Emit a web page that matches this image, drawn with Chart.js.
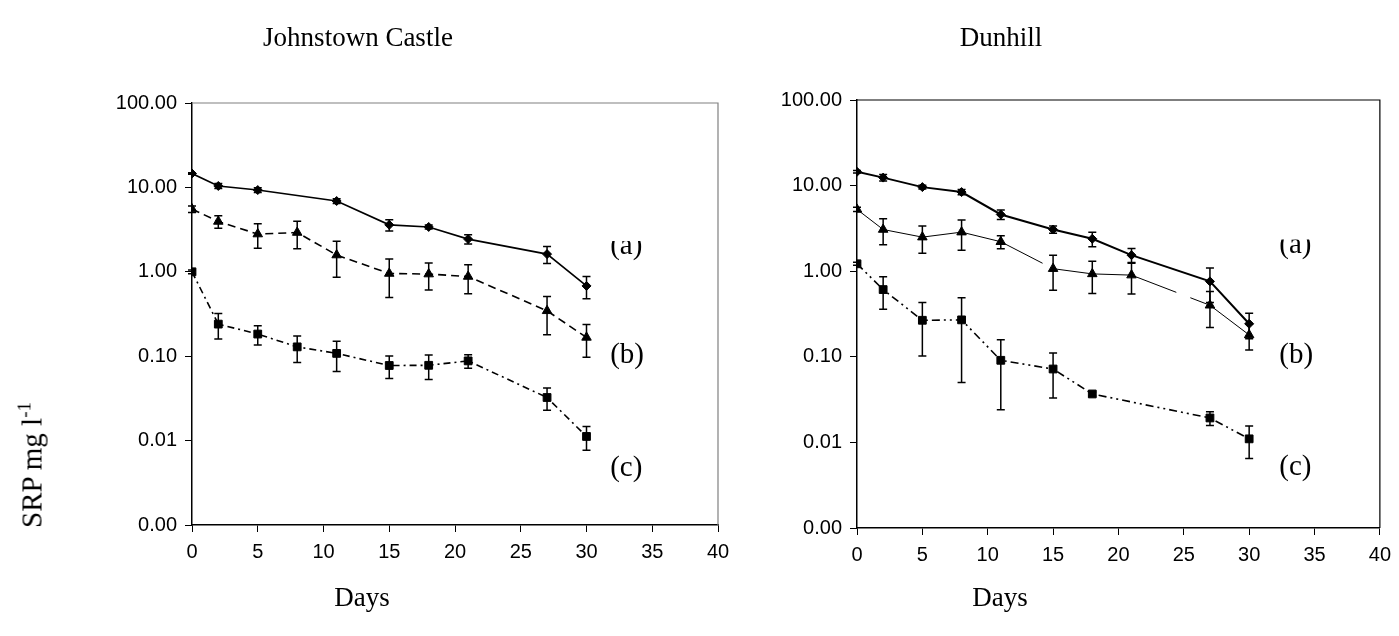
<!DOCTYPE html>
<html>
<head>
<meta charset="utf-8">
<script src="https://cdn.jsdelivr.net/npm/chart.js@4.4.1/dist/chart.umd.min.js"></script>
<style>
  body { margin: 0; background: #fff; }
  #wrap { position: relative; width: 1399px; height: 636px; overflow: hidden; font-family: "Liberation Serif", "Times New Roman", serif; color: #000; }
  canvas { position: absolute; top: 0; }
  .t { position: absolute; font-size: 27px; white-space: nowrap; transform: translate(-50%, -50%); }
  .ylab { position: absolute; left: 31px; top: 465px; font-size: 29px; white-space: nowrap; transform: translate(-50%, -50%) rotate(-90deg); }
  .ylab sup { font-size: 19px; vertical-align: 11px; }
</style>
</head>
<body>
<div id="wrap">
  <canvas id="jc" width="740" height="636" style="left:0"></canvas>
  <canvas id="dh" width="659" height="636" style="left:740px"></canvas>
  <div class="t" style="left:358px; top:37px">Johnstown Castle</div>
  <div class="t" style="left:1001px; top:37px">Dunhill</div>
  <div class="t" style="left:362px; top:597px">Days</div>
  <div class="t" style="left:1000px; top:597px">Days</div>
  <div class="ylab">SRP mg l<sup>-1</sup></div>
</div>
<script>
// tick labels
var xTicks = [0, 5, 10, 15, 20, 25, 30, 35, 40];
var yTicks = [0.001, 0.01, 0.1, 1, 10, 100];
var curveLabels = ['(a)', '(b)', '(c)'];

// Johnstown Castle
var jcDaysA = [0, 2, 5, 11, 15, 18, 21, 27, 30];
var jcA     = [14.6, 10.4, 9.3, 6.9, 3.6, 3.4, 2.44, 1.62, 0.68];
var jcAErr  = [0.3, 0.7, 0.6, 0.45, 0.55, 0.19, 0.3, 0.37, 0.2];
var jcDays  = [0, 2, 5, 8, 11, 15, 18, 21, 27, 30];
var jcB     = [5.53, 3.95, 2.8, 2.92, 1.58, 0.955, 0.94, 0.88, 0.345, 0.167];
var jcBErr  = [0.5, 0.67, 0.9, 1.05, 0.72, 0.46, 0.33, 0.33, 0.165, 0.07];
var jcC     = [1.0, 0.24, 0.183, 0.129, 0.108, 0.0776, 0.078, 0.088, 0.0324, 0.0112];
var jcCErr  = [0.05, 0.08, 0.047, 0.045, 0.042, 0.023, 0.025, 0.016, 0.0095, 0.0035];

// Dunhill
var dhDays  = [0, 2, 5, 8, 11, 15, 18, 21, 27, 30];
var dhA     = [14.5, 12.4, 9.6, 8.4, 4.6, 3.07, 2.39, 1.54, 0.76, 0.243];
var dhAErr  = [0.5, 1.1, 0.5, 0.6, 0.58, 0.3, 0.46, 0.3, 0.33, 0.08];
var dhB     = [5.27, 3.07, 2.5, 2.86, 2.21, 1.07, 0.93, 0.90, 0.40, 0.18];
var dhBErr  = [0.3, 1.03, 0.88, 1.1, 0.38, 0.47, 0.38, 0.36, 0.18, 0.06];
var dhDaysC = [0, 2, 5, 8, 11, 15, 18, 27, 30];
var dhC     = [1.22, 0.61, 0.267, 0.27, 0.091, 0.072, 0.0368, 0.0193, 0.011];
var dhCErr  = [0.05, 0.25, 0.165, 0.22, 0.067, 0.039, 0.002, 0.0035, 0.0045];

function pts(days, vals) {
  return days.map(function (d, i) { return { x: d, y: vals[i] }; });
}

// error bars drawn through the scales
var errorBars = {
  id: 'errorBars',
  afterDatasetsDraw: function (chart) {
    var ctx = chart.ctx, x = chart.scales.x, y = chart.scales.y;
    ctx.save();
    ctx.strokeStyle = '#000';
    ctx.lineWidth = 1.5;
    ctx.setLineDash([]);
    chart.data.datasets.forEach(function (ds) {
      ds.data.forEach(function (p, i) {
        var e = ds.errors[i];
        var px = x.getPixelForValue(p.x);
        var top = y.getPixelForValue(p.y + e);
        var bot = y.getPixelForValue(Math.max(p.y - e, 0.0011));
        ctx.beginPath();
        ctx.moveTo(px, top); ctx.lineTo(px, bot);
        ctx.moveTo(px - 4, top); ctx.lineTo(px + 4, top);
        ctx.moveTo(px - 4, bot); ctx.lineTo(px + 4, bot);
        ctx.stroke();
      });
    });
    ctx.restore();
  }
};

// top and right edge of the plot box
var frame = {
  id: 'frame',
  beforeDatasetsDraw: function (chart, args, opts) {
    var a = chart.chartArea, ctx = chart.ctx;
    ctx.save();
    ctx.strokeStyle = opts.color;
    ctx.lineWidth = 1.2;
    ctx.beginPath();
    ctx.moveTo(a.left, a.top); ctx.lineTo(a.right, a.top); ctx.lineTo(a.right, a.bottom);
    ctx.stroke();
    ctx.restore();
  }
};

// (a) (b) (c) next to the curves
var curveText = {
  id: 'curveText',
  afterDraw: function (chart, args, opts) {
    var ctx = chart.ctx, x = chart.scales.x, y = chart.scales.y;
    ctx.save();
    ctx.fillStyle = '#000';
    ctx.font = '29px "Liberation Serif", "Times New Roman", serif';
    ctx.textBaseline = 'alphabetic';
    var px = x.getPixelForValue(opts.x);
    opts.y.forEach(function (v, i) {
      var py = y.getPixelForValue(v);
      ctx.save();
      if (i === 0) {
        // the first label is cut at its top in the original
        ctx.beginPath();
        ctx.rect(px - 5, py - 13, 80, 40);
        ctx.clip();
      }
      ctx.fillText(curveLabels[i], px, py);
      ctx.restore();
    });
    ctx.restore();
  }
};

var tickFont = { family: '"Liberation Sans", Arial, sans-serif', size: 20 };

function makeChart(id, datasets, box) {
  return new Chart(document.getElementById(id), {
    type: 'line',
    data: { datasets: datasets },
    plugins: [frame, errorBars, curveText],
    options: {
      responsive: false,
      animation: false,
      layout: { padding: { left: 0, top: box.top, right: box.right, bottom: 0 } },
      plugins: {
        legend: { display: false },
        tooltip: { enabled: false },
        frame: { color: box.frame },
        curveText: { x: box.labelX, y: box.labelY }
      },
      scales: {
        x: {
          type: 'linear', min: 0, max: 40,
          afterBuildTicks: function (s) { s.ticks = xTicks.map(function (v) { return { value: v }; }); },
          afterFit: function (s) { s.height = box.xh; },
          ticks: { font: tickFont, color: '#000', padding: 8, maxRotation: 0 },
          grid: { drawOnChartArea: false, tickLength: 7, color: '#000', lineWidth: 1 },
          border: { color: '#000', width: 1.5 }
        },
        y: {
          type: 'logarithmic', min: 0.001, max: 100,
          afterBuildTicks: function (s) { s.ticks = yTicks.map(function (v) { return { value: v }; }); },
          afterFit: function (s) { s.width = box.yw; },
          ticks: { font: tickFont, color: '#000', padding: 8, autoSkip: false,
                   callback: function (v) { return Number(v).toFixed(2); } },
          grid: { drawOnChartArea: false, tickLength: 7, color: '#000', lineWidth: 1 },
          border: { color: '#000', width: 1.5 }
        }
      }
    }
  });
}

function series(data, errors, marker, radius, width, dash, extra) {
  var ds = {
    data: data, errors: errors,
    borderColor: '#000', borderWidth: width, borderDash: dash,
    pointStyle: marker, pointRadius: radius,
    pointBackgroundColor: '#000', pointBorderColor: '#000', pointBorderWidth: 1,
    tension: 0, fill: false
  };
  return Object.assign(ds, extra || {});
}

makeChart('jc', [
  series(pts(jcDaysA, jcA), jcAErr, 'rectRot', 4.5, 1.6, []),
  series(pts(jcDays, jcB), jcBErr, 'triangle', 5.5, 1.6, [8, 5]),
  series(pts(jcDays, jcC), jcCErr, 'rect', 5.5, 1.6, [7, 4, 2, 4])
], { top: 103, right: 22, xh: 111, yw: 192, frame: '#808080',
     labelX: 31.8, labelY: [1.63, 0.0835, 0.00383] });

// the thin (b) line has two visible breaks in the original
var dhBreaks = { 4: [47, 13], 7: [48, 15, 40] };

makeChart('dh', [
  series(pts(dhDays, dhA), dhAErr, 'rectRot', 4.5, 2, []),
  series(pts(dhDays, dhB), dhBErr, 'triangle', 5.5, 1, [], {
    segment: { borderDash: function (c) { return dhBreaks[c.p0DataIndex]; } }
  }),
  series(pts(dhDaysC, dhC), dhCErr, 'rect', 5.5, 1.6, [8, 4, 2, 4, 2, 4])
], { top: 100, right: 14, xh: 108, yw: 117, frame: '#000',
     labelX: 32.3, labelY: [1.65, 0.0855, 0.0042] });
</script>
</body>
</html>
